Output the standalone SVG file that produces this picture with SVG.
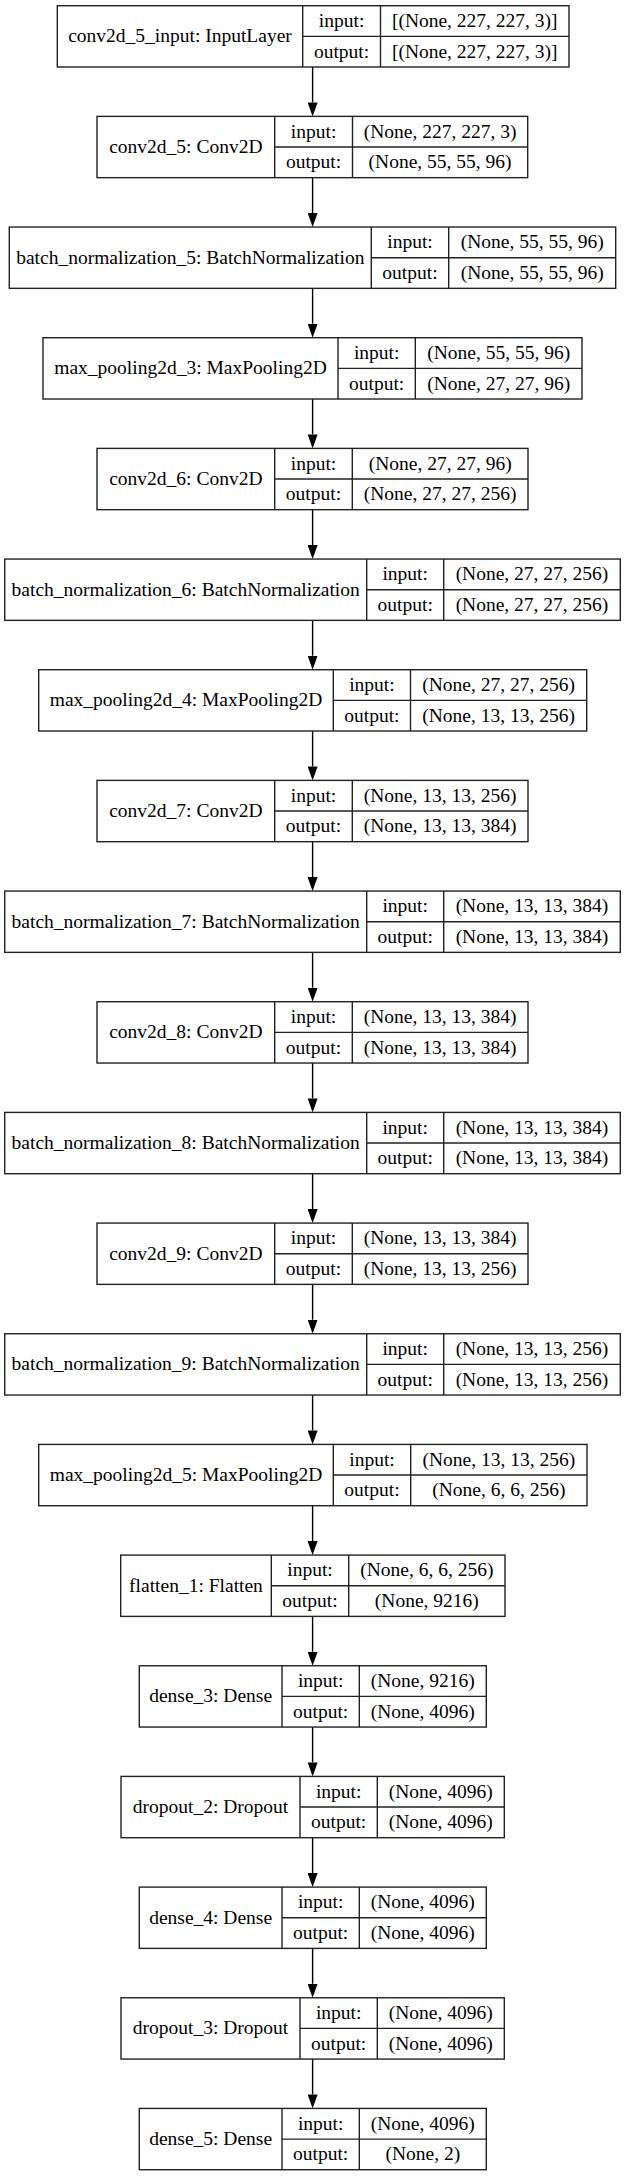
<svg xmlns="http://www.w3.org/2000/svg" width="625" height="2176" viewBox="0 0 625 2176">
<style>
.b{fill:#fff;stroke:#222;stroke-width:1.4}
.s{stroke:#222;stroke-width:1.4;fill:none}
text{font-family:"Liberation Serif","Times New Roman",serif;font-size:19.5px;fill:#000;text-anchor:middle}
.e{stroke:#000;stroke-width:1.4;fill:none;marker-end:url(#ah)}
</style>
<defs>
<marker id="ah" viewBox="0 0 14 10" refX="0" refY="5" markerWidth="14" markerHeight="10" markerUnits="userSpaceOnUse" orient="auto">
<path d="M0,0 L14,5 L0,10 z" fill="#000"/>
</marker>
</defs>
<rect width="625" height="2176" fill="#fff"/>
<g id="edges">
<line class="e" x1="312.6" y1="67" x2="312.6" y2="102.4"/>
<line class="e" x1="312.6" y1="177.7" x2="312.6" y2="213"/>
<line class="e" x1="312.6" y1="288.3" x2="312.6" y2="323.7"/>
<line class="e" x1="312.6" y1="399" x2="312.6" y2="434.4"/>
<line class="e" x1="312.6" y1="509.7" x2="312.6" y2="545.1"/>
<line class="e" x1="312.6" y1="620.4" x2="312.6" y2="655.7"/>
<line class="e" x1="312.6" y1="731" x2="312.6" y2="766.4"/>
<line class="e" x1="312.6" y1="841.7" x2="312.6" y2="877.1"/>
<line class="e" x1="312.6" y1="952.4" x2="312.6" y2="987.7"/>
<line class="e" x1="312.6" y1="1063" x2="312.6" y2="1098.4"/>
<line class="e" x1="312.6" y1="1173.7" x2="312.6" y2="1209.1"/>
<line class="e" x1="312.6" y1="1284.4" x2="312.6" y2="1319.7"/>
<line class="e" x1="312.6" y1="1395" x2="312.6" y2="1430.4"/>
<line class="e" x1="312.6" y1="1505.7" x2="312.6" y2="1541.1"/>
<line class="e" x1="312.6" y1="1616.4" x2="312.6" y2="1651.8"/>
<line class="e" x1="312.6" y1="1727.1" x2="312.6" y2="1762.4"/>
<line class="e" x1="312.6" y1="1837.7" x2="312.6" y2="1873.1"/>
<line class="e" x1="312.6" y1="1948.4" x2="312.6" y2="1983.8"/>
<line class="e" x1="312.6" y1="2059.1" x2="312.6" y2="2094.4"/>
</g>
<g id="conv2d_5_input" transform="translate(0,5.7)">
<rect class="b" x="57.3" y="0" width="511.7" height="61.3"/>
<path class="s" d="M302.7,0V61.3M380.5,0V61.3M302.7,30.65H569"/>
<text x="180" y="36.65">conv2d_5_input: InputLayer</text>
<text x="341.6" y="21.3">input:</text><text x="341.6" y="51.97">output:</text>
<text x="474.75" y="21.3">[(None, 227, 227, 3)]</text><text x="474.75" y="51.97">[(None, 227, 227, 3)]</text>
</g>
<g id="conv2d_5" transform="translate(0,116.37)">
<rect class="b" x="97" y="0" width="430.7" height="61.3"/>
<path class="s" d="M274.7,0V61.3M352.5,0V61.3M274.7,30.65H527.7"/>
<text x="185.85" y="36.65">conv2d_5: Conv2D</text>
<text x="313.6" y="21.3">input:</text><text x="313.6" y="51.97">output:</text>
<text x="440.1" y="21.3">(None, 227, 227, 3)</text><text x="440.1" y="51.97">(None, 55, 55, 96)</text>
</g>
<g id="batch_normalization_5" transform="translate(0,227.04)">
<rect class="b" x="9.3" y="0" width="606.4" height="61.3"/>
<path class="s" d="M371.3,0V61.3M448.7,0V61.3M371.3,30.65H615.7"/>
<text x="190.3" y="36.65">batch_normalization_5: BatchNormalization</text>
<text x="410" y="21.3">input:</text><text x="410" y="51.97">output:</text>
<text x="532.2" y="21.3">(None, 55, 55, 96)</text><text x="532.2" y="51.97">(None, 55, 55, 96)</text>
</g>
<g id="max_pooling2d_3" transform="translate(0,337.71)">
<rect class="b" x="43" y="0" width="539" height="61.3"/>
<path class="s" d="M338,0V61.3M415.3,0V61.3M338,30.65H582"/>
<text x="190.5" y="36.65">max_pooling2d_3: MaxPooling2D</text>
<text x="376.65" y="21.3">input:</text><text x="376.65" y="51.97">output:</text>
<text x="498.65" y="21.3">(None, 55, 55, 96)</text><text x="498.65" y="51.97">(None, 27, 27, 96)</text>
</g>
<g id="conv2d_6" transform="translate(0,448.38)">
<rect class="b" x="97" y="0" width="431" height="61.3"/>
<path class="s" d="M274.7,0V61.3M352.3,0V61.3M274.7,30.65H528"/>
<text x="185.85" y="36.65">conv2d_6: Conv2D</text>
<text x="313.5" y="21.3">input:</text><text x="313.5" y="51.97">output:</text>
<text x="440.15" y="21.3">(None, 27, 27, 96)</text><text x="440.15" y="51.97">(None, 27, 27, 256)</text>
</g>
<g id="batch_normalization_6" transform="translate(0,559.05)">
<rect class="b" x="4.7" y="0" width="615.6" height="61.3"/>
<path class="s" d="M366.7,0V61.3M443.7,0V61.3M366.7,30.65H620.3"/>
<text x="185.7" y="36.65">batch_normalization_6: BatchNormalization</text>
<text x="405.2" y="21.3">input:</text><text x="405.2" y="51.97">output:</text>
<text x="532" y="21.3">(None, 27, 27, 256)</text><text x="532" y="51.97">(None, 27, 27, 256)</text>
</g>
<g id="max_pooling2d_4" transform="translate(0,669.72)">
<rect class="b" x="38.7" y="0" width="548" height="61.3"/>
<path class="s" d="M333.3,0V61.3M410.5,0V61.3M333.3,30.65H586.7"/>
<text x="186" y="36.65">max_pooling2d_4: MaxPooling2D</text>
<text x="371.9" y="21.3">input:</text><text x="371.9" y="51.97">output:</text>
<text x="498.6" y="21.3">(None, 27, 27, 256)</text><text x="498.6" y="51.97">(None, 13, 13, 256)</text>
</g>
<g id="conv2d_7" transform="translate(0,780.39)">
<rect class="b" x="97" y="0" width="431" height="61.3"/>
<path class="s" d="M274.7,0V61.3M352.3,0V61.3M274.7,30.65H528"/>
<text x="185.85" y="36.65">conv2d_7: Conv2D</text>
<text x="313.5" y="21.3">input:</text><text x="313.5" y="51.97">output:</text>
<text x="440.15" y="21.3">(None, 13, 13, 256)</text><text x="440.15" y="51.97">(None, 13, 13, 384)</text>
</g>
<g id="batch_normalization_7" transform="translate(0,891.06)">
<rect class="b" x="4.7" y="0" width="615.6" height="61.3"/>
<path class="s" d="M366.7,0V61.3M443.7,0V61.3M366.7,30.65H620.3"/>
<text x="185.7" y="36.65">batch_normalization_7: BatchNormalization</text>
<text x="405.2" y="21.3">input:</text><text x="405.2" y="51.97">output:</text>
<text x="532" y="21.3">(None, 13, 13, 384)</text><text x="532" y="51.97">(None, 13, 13, 384)</text>
</g>
<g id="conv2d_8" transform="translate(0,1001.73)">
<rect class="b" x="97" y="0" width="431" height="61.3"/>
<path class="s" d="M274.7,0V61.3M352.3,0V61.3M274.7,30.65H528"/>
<text x="185.85" y="36.65">conv2d_8: Conv2D</text>
<text x="313.5" y="21.3">input:</text><text x="313.5" y="51.97">output:</text>
<text x="440.15" y="21.3">(None, 13, 13, 384)</text><text x="440.15" y="51.97">(None, 13, 13, 384)</text>
</g>
<g id="batch_normalization_8" transform="translate(0,1112.4)">
<rect class="b" x="4.7" y="0" width="615.6" height="61.3"/>
<path class="s" d="M366.7,0V61.3M443.7,0V61.3M366.7,30.65H620.3"/>
<text x="185.7" y="36.65">batch_normalization_8: BatchNormalization</text>
<text x="405.2" y="21.3">input:</text><text x="405.2" y="51.97">output:</text>
<text x="532" y="21.3">(None, 13, 13, 384)</text><text x="532" y="51.97">(None, 13, 13, 384)</text>
</g>
<g id="conv2d_9" transform="translate(0,1223.07)">
<rect class="b" x="97" y="0" width="431" height="61.3"/>
<path class="s" d="M274.7,0V61.3M352.3,0V61.3M274.7,30.65H528"/>
<text x="185.85" y="36.65">conv2d_9: Conv2D</text>
<text x="313.5" y="21.3">input:</text><text x="313.5" y="51.97">output:</text>
<text x="440.15" y="21.3">(None, 13, 13, 384)</text><text x="440.15" y="51.97">(None, 13, 13, 256)</text>
</g>
<g id="batch_normalization_9" transform="translate(0,1333.74)">
<rect class="b" x="4.7" y="0" width="615.6" height="61.3"/>
<path class="s" d="M366.7,0V61.3M443.7,0V61.3M366.7,30.65H620.3"/>
<text x="185.7" y="36.65">batch_normalization_9: BatchNormalization</text>
<text x="405.2" y="21.3">input:</text><text x="405.2" y="51.97">output:</text>
<text x="532" y="21.3">(None, 13, 13, 256)</text><text x="532" y="51.97">(None, 13, 13, 256)</text>
</g>
<g id="max_pooling2d_5" transform="translate(0,1444.41)">
<rect class="b" x="38.7" y="0" width="548.3" height="61.3"/>
<path class="s" d="M333.3,0V61.3M410.7,0V61.3M333.3,30.65H587"/>
<text x="186" y="36.65">max_pooling2d_5: MaxPooling2D</text>
<text x="372" y="21.3">input:</text><text x="372" y="51.97">output:</text>
<text x="498.85" y="21.3">(None, 13, 13, 256)</text><text x="498.85" y="51.97">(None, 6, 6, 256)</text>
</g>
<g id="flatten_1" transform="translate(0,1555.08)">
<rect class="b" x="120.7" y="0" width="384.3" height="61.3"/>
<path class="s" d="M271.3,0V61.3M348.7,0V61.3M271.3,30.65H505"/>
<text x="196" y="36.65">flatten_1: Flatten</text>
<text x="310" y="21.3">input:</text><text x="310" y="51.97">output:</text>
<text x="426.85" y="21.3">(None, 6, 6, 256)</text><text x="426.85" y="51.97">(None, 9216)</text>
</g>
<g id="dense_3" transform="translate(0,1665.75)">
<rect class="b" x="139.3" y="0" width="347" height="61.3"/>
<path class="s" d="M282,0V61.3M359.3,0V61.3M282,30.65H486.3"/>
<text x="210.65" y="36.65">dense_3: Dense</text>
<text x="320.65" y="21.3">input:</text><text x="320.65" y="51.97">output:</text>
<text x="422.8" y="21.3">(None, 9216)</text><text x="422.8" y="51.97">(None, 4096)</text>
</g>
<g id="dropout_2" transform="translate(0,1776.42)">
<rect class="b" x="121" y="0" width="383.3" height="61.3"/>
<path class="s" d="M300,0V61.3M377.3,0V61.3M300,30.65H504.3"/>
<text x="210.5" y="36.65">dropout_2: Dropout</text>
<text x="338.65" y="21.3">input:</text><text x="338.65" y="51.97">output:</text>
<text x="440.8" y="21.3">(None, 4096)</text><text x="440.8" y="51.97">(None, 4096)</text>
</g>
<g id="dense_4" transform="translate(0,1887.09)">
<rect class="b" x="139.3" y="0" width="347" height="61.3"/>
<path class="s" d="M282,0V61.3M359.3,0V61.3M282,30.65H486.3"/>
<text x="210.65" y="36.65">dense_4: Dense</text>
<text x="320.65" y="21.3">input:</text><text x="320.65" y="51.97">output:</text>
<text x="422.8" y="21.3">(None, 4096)</text><text x="422.8" y="51.97">(None, 4096)</text>
</g>
<g id="dropout_3" transform="translate(0,1997.76)">
<rect class="b" x="121" y="0" width="383.3" height="61.3"/>
<path class="s" d="M300,0V61.3M377.3,0V61.3M300,30.65H504.3"/>
<text x="210.5" y="36.65">dropout_3: Dropout</text>
<text x="338.65" y="21.3">input:</text><text x="338.65" y="51.97">output:</text>
<text x="440.8" y="21.3">(None, 4096)</text><text x="440.8" y="51.97">(None, 4096)</text>
</g>
<g id="dense_5" transform="translate(0,2108.43)">
<rect class="b" x="139.3" y="0" width="347" height="61.3"/>
<path class="s" d="M282,0V61.3M359.3,0V61.3M282,30.65H486.3"/>
<text x="210.65" y="36.65">dense_5: Dense</text>
<text x="320.65" y="21.3">input:</text><text x="320.65" y="51.97">output:</text>
<text x="422.8" y="21.3">(None, 4096)</text><text x="422.8" y="51.97">(None, 2)</text>
</g>
</svg>
